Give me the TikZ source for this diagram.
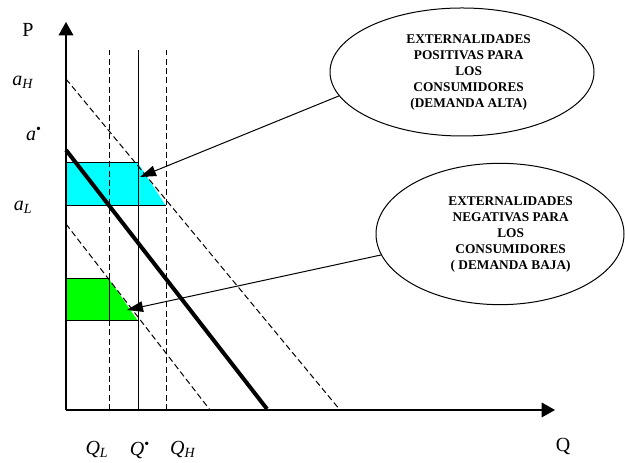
\documentclass[tikz,border=0pt]{standalone}
\usepackage{fontspec}
\setmainfont{Liberation Serif}
\usetikzlibrary{arrows.meta, shapes.geometric, calc, positioning}
\definecolor{highcyan}{RGB}{0, 255, 255}
\definecolor{lowgreen}{RGB}{0, 255, 0}
\tikzset{
	axislabel/.style={font=\fontsize{15}{18}\selectfont, inner sep=0pt},
	bubble/.style={ellipse, draw, line width=0.75pt, inner sep=0pt, align=center,
		font=\fontsize{10}{12}\selectfont\bfseries},
	shift line/.style={line width=0.75pt, dash pattern=on 4.5pt off 2.5pt},
	qline/.style={line width=0.75pt},
}

\begin{document}
\begin{tikzpicture}[x=0.75pt, y=0.75pt]
			\pgfmathsetmacro{\qlow}{43}
			\pgfmathsetmacro{\qstar}{72}
			\pgfmathsetmacro{\qhigh}{100}
			\useasboundingbox (-66,-53) rectangle (559,410);
			% Areas
			\fill[highcyan] (\qstar,247) -- (\qhigh,204) -- (\qstar,204) -- cycle;
			\filldraw[fill=highcyan, line width=0.75pt] (0,204) rectangle (\qstar,247);
			\draw[line width=0.75pt] (\qstar,204) -- (\qhigh,204);
			\fill[lowgreen] (\qlow,131) -- (\qstar,89) -- (\qlow,89) -- cycle;
			\filldraw[fill=lowgreen, line width=0.75pt] (0,89) rectangle (\qlow,131);
			\draw[line width=0.75pt] (\qlow,89) -- (\qstar,89);
			
			% Quantities
			\draw[shift line] (\qlow,0) -- (\qlow,360);
			\draw[qline] (\qstar,0) -- (\qstar,360);
			\draw[shift line] (\qhigh,0) -- (\qhigh,360);
			
			% Demand curves
			\draw[shift line] (0,331) -- (274,0);
			\draw[shift line] (0,186) -- (144,0);
			\draw[line width=3pt] (0,260) -- (201,1);
			
			% Axes
			\draw[line width=1pt, -{Triangle[length=10pt,width=11pt]}] (0,0) -- (0,388);
			\draw[line width=1pt, -{Triangle[length=10pt,width=11pt]}] (0,0) -- (489,0);
			
			\node[axislabel] (plabel) at (-38,380) {P};
			\node[axislabel] (ahigh) at (-43,328) {\textit{a}\textsubscript{\textit{H}}};
			\node[axislabel] (astar) at (-32,276) {\textit{a}\textsuperscript{\textbullet}};
			\node[axislabel] (alow) at (-43,203) {\textit{a}\textsubscript{\textit{L}}};
			\node[axislabel] (qlowlabel) at (31,-40) {\textit{Q}\textsubscript{\textit{L}}};
			\node[axislabel] (qstarlabel) at (74,-40) {\textit{Q}\textsuperscript{\textbullet}};
			\node[axislabel] (qhighlabel) at (117,-40) {\textit{Q}\textsubscript{\textit{H}}};
			\node[axislabel] (qlabel) at (497,-37) {Q};
			
			% Bubbles
			\node[bubble, minimum width=198pt, minimum height=96pt] (posbubble) at (396,338)
				{\begin{tabular}{@{\hspace{10pt}}c@{}}EXTERNALIDADES\\POSITIVAS PARA\\LOS\\CONSUMIDORES\\(DEMANDA ALTA)\end{tabular}};
			\node[bubble, minimum width=186pt, minimum height=106pt] (negbubble) at (434,176)
				{\begin{tabular}{@{\hspace{16pt}}c@{}}EXTERNALIDADES\\NEGATIVAS PARA\\LOS\\CONSUMIDORES\\( DEMANDA BAJA)\end{tabular}};
			\coordinate (hightip) at (74,233);
			\coordinate (lowtip) at (61,100);
			\draw[line width=0.75pt, -{Triangle[length=12pt,width=8pt]}] (posbubble.191) -- (hightip);
			\draw[line width=0.75pt, -{Triangle[length=12pt,width=8pt]}] (negbubble.190) -- (lowtip);
			
		\end{tikzpicture}
\end{document}
